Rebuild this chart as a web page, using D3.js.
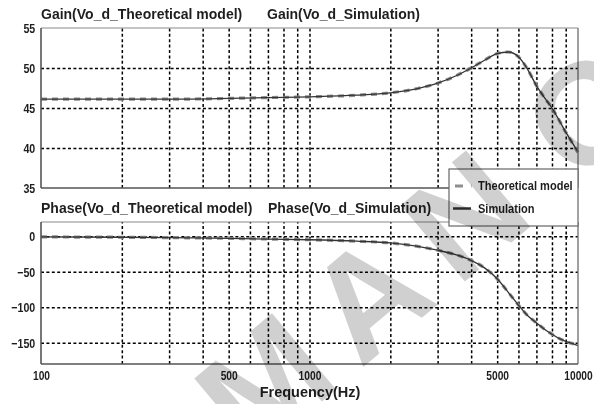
<!DOCTYPE html>
<html><head><meta charset="utf-8">
<script src="https://cdn.jsdelivr.net/npm/d3@7"></script>
<style>
body{margin:0;background:#fff;}
svg{display:block;}
.narrow{font-family:"Liberation Sans",Arial,sans-serif;font-weight:bold;}
.title{font-family:"Liberation Sans",Arial,sans-serif;font-weight:bold;}
</style></head>
<body>
<svg id="c" width="594" height="404"></svg>
<script>
const freqs       = [100,200,300,500,700,1000,1500,2000,2500,3000,3500,4000,4500,5000,5500,6000,6500,7000,7500,8000,8500,9000,9500,10000];
const gainTheory  = [46.1,46.1,46.1,46.2,46.3,46.4,46.6,46.9,47.4,48.1,49.0,50.0,51.0,51.8,52.0,51.4,49.8,47.8,46.3,45.0,43.5,42.0,40.7,39.4];
const gainSim     = [46.1,46.1,46.1,46.2,46.3,46.4,46.6,46.9,47.4,48.1,49.0,50.0,51.0,51.8,52.0,51.4,49.8,47.8,46.3,45.0,43.5,42.0,40.7,39.5];
const phaseTheory = [-1,-1.5,-2,-3,-4,-5,-7,-9.5,-14,-19.7,-26,-34,-45,-60,-79,-97,-112,-122,-131,-138,-144,-148,-151,-153];
const phaseSim    = [-1,-1.5,-2,-3,-4,-5,-7,-9.5,-14,-19.7,-26,-34,-45,-60,-79,-97,-112,-122,-131,-138,-144,-148,-151,-154];
const xTickVals   = [100,500,1000,5000,10000];
const xGridVals   = [200,300,400,500,600,700,800,900,1000,2000,3000,4000,5000,6000,7000,8000,9000];
const gainTicks   = [35,40,45,50,55];
const gainGrid    = [40,45,50];
const phaseTicks  = [-150,-100,-50,0];
const phaseGrid   = [-150,-100,-50,0];
const titles      = ["Gain(Vo_d_Theoretical model)","Gain(Vo_d_Simulation)","Phase(Vo_d_Theoretical model)","Phase(Vo_d_Simulation)"];
const legendLabels= ["Theoretical model","Simulation"];
const xLabel      = "Frequency(Hz)";
const watermarkA  = "MAN";
const watermarkB  = "C";

const NARROW = 0.82;
const svg = d3.select("#c");
const L=41,R=578;
const x = d3.scaleLog().domain([100,10000]).range([L,R]);
const yG = d3.scaleLinear().domain([35,55]).range([188,28]);
const yP = d3.scaleLinear().domain([-180,20]).range([364,222]);

function panel(y, grid, ticks, top, bottom, th, sh, tt, st, ty, sx){
  const g = svg.append("g");
  g.append("rect").attr("x",L).attr("y",top).attr("width",R-L).attr("height",bottom-top).attr("fill","#fff");
  const vg = g.append("g").attr("transform",`translate(0,${bottom})`)
    .call(d3.axisBottom(x).tickValues(xGridVals).tickSize(-(bottom-top)).tickFormat(""));
  vg.select(".domain").remove();
  vg.selectAll("line").attr("stroke","#000").attr("stroke-width",1.5).attr("stroke-dasharray","3,2.4");
  const hg = g.append("g").attr("transform",`translate(${L},0)`)
    .call(d3.axisLeft(y).tickValues(grid).tickSize(-(R-L)).tickFormat(""));
  hg.select(".domain").remove();
  hg.selectAll("line").attr("stroke","#000").attr("stroke-width",1.5).attr("stroke-dasharray","3,2.4");
  const lt = d3.line().x((d,i)=>x(freqs[i])).y(d=>y(d)).curve(d3.curveMonotoneX);
  g.append("path").attr("d",lt(th)).attr("fill","none").attr("stroke","#8e8e8e").attr("stroke-width",3.2)
    .attr("stroke-dasharray","6,5");
  g.append("path").attr("d",lt(sh)).attr("fill","none").attr("stroke","#333").attr("stroke-width",1.3);
  g.append("line").attr("x1",L).attr("x2",R).attr("y1",top).attr("y2",top).attr("stroke","#8a8a8a").attr("stroke-width",1.2);
  g.append("line").attr("x1",R).attr("x2",R).attr("y1",top).attr("y2",bottom).attr("stroke","#777").attr("stroke-width",1.4);
  g.append("line").attr("x1",L).attr("x2",L).attr("y1",top).attr("y2",bottom).attr("stroke","#555").attr("stroke-width",1.6);
  g.append("line").attr("x1",L).attr("x2",R).attr("y1",bottom).attr("y2",bottom).attr("stroke","#555").attr("stroke-width",1.6);
  const ya = g.append("g").attr("transform",`translate(${L},0)`)
    .call(d3.axisLeft(y).tickValues(ticks).tickSize(0).tickPadding(7));
  ya.select(".domain").remove();
  ya.selectAll("text").attr("class","narrow").attr("font-size",13).attr("fill","#1e1e1e").attr("dy","0.36em")
    .attr("transform",`scale(${NARROW},1)`);
  g.append("text").attr("class","title").attr("x",41).attr("y",ty).attr("font-size",14).attr("fill","#1e1e1e").text(tt);
  g.append("text").attr("class","title").attr("x",sx).attr("y",ty).attr("font-size",14).attr("fill","#1e1e1e").text(st);
}
panel(yG, gainGrid, gainTicks, 28, 188, gainTheory, gainSim, titles[0], titles[1], 19, 267);
panel(yP, phaseGrid, phaseTicks, 222, 364, phaseTheory, phaseSim, titles[2], titles[3], 213, 268);

const xa = svg.append("g").attr("transform","translate(0,364)")
  .call(d3.axisBottom(x).tickValues(xTickVals).tickSize(0).tickPadding(7).tickFormat(d3.format("d")));
xa.select(".domain").remove();
xa.selectAll("text").attr("class","narrow").attr("font-size",12.5).attr("fill","#1e1e1e")
  .attr("transform",`scale(${NARROW},1)`);
svg.append("text").attr("class","title").attr("x",310).attr("y",397).attr("text-anchor","middle")
  .attr("font-size",14.5).attr("fill","#1e1e1e").text(xLabel);

// legend
const lg = svg.append("g");
lg.append("rect").attr("x",449).attr("y",169).attr("width",129).attr("height",57)
  .attr("fill","#fff").attr("stroke","#666").attr("stroke-width",1.2);
lg.append("line").attr("x1",455).attr("x2",472).attr("y1",186).attr("y2",186)
  .attr("stroke","#8e8e8e").attr("stroke-width",3).attr("stroke-dasharray","8,8.5");
lg.append("line").attr("x1",453).attr("x2",471).attr("y1",208.5).attr("y2",208.5)
  .attr("stroke","#333").attr("stroke-width",2.5);
legendLabels.forEach((t,i)=>{
  lg.append("text").attr("class","narrow").attr("transform",`translate(478,${i?213:190}) scale(${NARROW},1)`)
    .attr("font-size",13.5).attr("fill","#1e1e1e").text(t);
});

// watermark
const wm = svg.append("text").attr("transform","translate(251,461) rotate(-40)")
  .attr("font-family","Liberation Sans, Arial, sans-serif").attr("font-weight","bold")
  .attr("font-size",145).attr("fill","#d0d0d0").style("mix-blend-mode","multiply").attr("letter-spacing",22);
wm.append("tspan").text(watermarkA);
wm.append("tspan").attr("dx",30).text(watermarkB);
</script>
</body></html>
